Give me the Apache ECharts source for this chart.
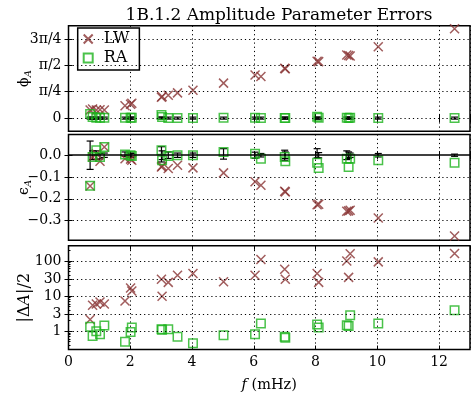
<!DOCTYPE html>
<html>
<head>
<meta charset="utf-8">
<script src="https://cdn.jsdelivr.net/npm/echarts@6/dist/echarts.min.js"></script>
<style>html,body{margin:0;padding:0;background:#fff}#c{width:471px;height:394px}</style>
</head>
<body>
<div id="c"></div>
<script>
// ---- data ----
const freq   = [0.70, 0.78, 0.90, 1.02, 1.16, 1.83, 2.01, 2.05, 3.01, 3.03, 3.23, 3.53, 4.03, 5.02, 6.04, 6.23, 7.00, 7.02, 8.05, 8.10, 9.01, 9.07, 9.12, 10.03, 12.50];
// phase error (rad)
const phiLW  = [0.24, 0.27, 0.24, 0.25, 0.24, 0.37, 0.41, 0.44, 0.62, 0.64, 0.68, 0.75, 0.83, 1.04, 1.28, 1.24, 1.48, 1.47, 1.69, 1.68, 1.88, 1.86, 1.85, 2.12, 2.66];
const phiRA  = [0.12, 0.03, 0.01, 0.01, 0.01, 0.01, 0.01, 0.01, 0.09, 0.03, 0.00, 0.00, 0.00, 0.01, 0.01, 0.00, 0.00, 0.00, 0.04, 0.01, 0.01, 0.00, 0.01, 0.00, 0.00];
const phiErr = [0.03, 0.03, 0.03, 0.03, 0.03, 0.03, 0.03, 0.03, 0.03, 0.03, 0.03, 0.03, 0.03, 0.03, 0.03, 0.03, 0.03, 0.03, 0.03, 0.03, 0.03, 0.03, 0.03, 0.03, 0.03];
// eccentricity error
const epsLW  = [-0.141, -0.008, 0.007, -0.028, 0.038, -0.016, -0.018, -0.023, -0.054, -0.050, -0.061, -0.046, -0.058, -0.081, -0.122, -0.138, -0.165, -0.168, -0.227, -0.225, -0.257, -0.255, -0.252, -0.288, -0.370];
const epsRA  = [-0.140, -0.008, 0.023, -0.008, 0.038, 0.003, 0.000, -0.003, 0.023, -0.023, -0.003, 0.000, 0.000, 0.015, 0.007, -0.016, -0.008, -0.028, -0.034, -0.058, -0.016, -0.054, -0.016, -0.023, -0.034];
const epsErrMid = [0.000, 0.000, 0.000, -0.005, 0.000, 0.005, 0.000, 0.000, 0.004, 0.000, 0.000, 0.000, 0.000, 0.006, 0.000, 0.000, 0.000, 0.000, 0.009, 0.000, 0.000, 0.000, 0.000, 0.000, 0.000];
const epsErr = [0.065, 0.020, 0.020, 0.012, 0.010, 0.010, 0.010, 0.008, 0.035, 0.020, 0.015, 0.010, 0.010, 0.024, 0.014, 0.008, 0.023, 0.015, 0.021, 0.012, 0.020, 0.015, 0.010, 0.008, 0.005];
// |ΔA|/2
const dALW   = [2.15, 5.5, 5.9, 6.8, 5.9, 7.2, 17, 14, 30, 9.9, 24.5, 39, 44, 25.4, 39, 110, 58, 30, 44, 24.5, 100, 34, 160, 94, 163];
const dARA   = [1.33, 0.73, 1.0, 0.82, 1.45, 0.50, 0.95, 1.27, 1.14, 1.10, 1.14, 0.69, 0.45, 0.77, 0.82, 1.66, 0.69, 0.65, 1.55, 1.27, 1.48, 1.41, 2.86, 1.66, 3.97];
// ticks
const phiTicks = [0, Math.PI / 4, Math.PI / 2, 3 * Math.PI / 4];
const phiTickLabels = ['0', 'π/4', 'π/2', '3π/4'];
const epsTicks = [0, -0.1, -0.2, -0.3];
const dATicks = [1, 3, 10, 30, 100];
const dAMinorTicks = [0.4, 0.5, 0.6, 0.7, 0.8, 0.9, 2, 4, 5, 6, 7, 8, 9, 20, 40, 50, 60, 70, 80, 90, 200];

// ---- styling ----
const FONT = 'DejaVu Serif';
const BROWN = '#8a3434';
const GREEN = '#1db31d';
const X_PATH = 'path://M0,0L10,10M10,0L0,10';

const grids = [
  { left: 68.5, right: 1, top: 25.7, height: 105.6 },
  { left: 68.5, right: 1, top: 134.5, height: 105.8 },
  { left: 68.5, right: 1, top: 245.8, height: 103.7 }
];
grids.forEach(g => Object.assign(g, { show: true, borderColor: '#000', borderWidth: 1.5,
  backgroundColor: 'transparent', containLabel: false, outerBoundsMode: 'none' }));

const dotted = { color: '#000', width: 1, type: [1.2, 3] };
const TICK_FS = 14;

const xAxes = [];
for (let i = 0; i < 3; i++) {
  xAxes.push({
    type: 'value', gridIndex: i, min: 0, max: 13, interval: 2, position: 'bottom',
    axisLine: { show: false },
    axisTick: { inside: true, length: 4, lineStyle: { color: '#000', width: 1 } },
    axisLabel: { show: i === 2, showMaxLabel: false, fontFamily: FONT, fontSize: TICK_FS, color: '#000', margin: 6 },
    splitLine: { show: true, lineStyle: dotted },
    name: i === 2 ? '{i|f} (mHz)' : '',
    nameLocation: 'middle', nameGap: 28, nameMoveOverlap: false,
    nameTextStyle: { fontFamily: FONT, fontSize: 14.5, color: '#000',
      rich: { i: { fontFamily: FONT, fontSize: 14.5, fontStyle: 'italic', color: '#000' } } }
  });
}
for (let i = 0; i < 3; i++) {
  xAxes.push({
    type: 'value', gridIndex: i, min: 0, max: 13, interval: 2, position: 'top',
    axisLine: { show: false },
    axisTick: { inside: true, length: 4, lineStyle: { color: '#000', width: 1 } },
    axisLabel: { show: false }, splitLine: { show: false }
  });
}

function fmtEps(v) {
  const s = Math.abs(v).toFixed(1);
  return (v < -1e-9 ? '−' : '') + s;
}
function fmtPhi(v) {
  let best = 0;
  for (let k = 0; k < phiTicks.length; k++) if (Math.abs(phiTicks[k] - v) < Math.abs(phiTicks[best] - v)) best = k;
  return phiTickLabels[best];
}

const labelStyle = { fontFamily: FONT, fontSize: TICK_FS, color: '#000', margin: 7 };
const tickStyle = { inside: true, length: 4, lineStyle: { color: '#000', width: 1 } };

const yAxes = [
  { type: 'value', gridIndex: 0, min: -Math.PI / 8, max: 7 * Math.PI / 8,
    axisLine: { show: false }, splitLine: { show: false },
    axisTick: Object.assign({ customValues: phiTicks }, tickStyle),
    axisLabel: Object.assign({ customValues: phiTicks, formatter: fmtPhi }, labelStyle),
    name: '{a|ϕ}{s|A}', nameLocation: 'middle', nameRotate: 90, nameGap: 35, nameMoveOverlap: false,
    nameTextStyle: { rich: {
      a: { fontFamily: FONT, fontSize: 14, color: '#000', lineHeight: 18 },
      s: { fontFamily: FONT, fontSize: 10, fontStyle: 'italic', color: '#000', verticalAlign: 'bottom', lineHeight: 18 } } } },
  { type: 'value', gridIndex: 1, min: -0.39, max: 0.095,
    axisLine: { show: false }, splitLine: { show: false },
    axisTick: Object.assign({ customValues: epsTicks }, tickStyle),
    axisLabel: Object.assign({ customValues: epsTicks, formatter: fmtEps }, labelStyle),
    name: '{a|ϵ}{s|A}', nameLocation: 'middle', nameRotate: 90, nameGap: 35, nameMoveOverlap: false,
    nameTextStyle: { rich: {
      a: { fontFamily: FONT, fontSize: 14, color: '#000', lineHeight: 18 },
      s: { fontFamily: FONT, fontSize: 10, fontStyle: 'italic', color: '#000', verticalAlign: 'bottom', lineHeight: 18 } } } },
  { type: 'log', logBase: 10, gridIndex: 2, min: 0.3, max: 270,
    axisLine: { show: false }, splitLine: { show: false },
    axisTick: Object.assign({ customValues: dATicks }, tickStyle),
    axisLabel: Object.assign({ customValues: dATicks, formatter: v => String(Math.round(v)) }, labelStyle),
    name: '|Δ{i|A}|/2', nameLocation: 'middle', nameRotate: 90, nameGap: 36, nameMoveOverlap: false,
    nameTextStyle: { fontFamily: FONT, fontSize: 16, color: '#000',
      rich: { i: { fontFamily: FONT, fontSize: 16, fontStyle: 'italic', color: '#000' } } } },
  // right side ticks
  { type: 'value', gridIndex: 0, min: -Math.PI / 8, max: 7 * Math.PI / 8, position: 'right',
    axisLine: { show: false }, splitLine: { show: false }, axisLabel: { show: false },
    axisTick: Object.assign({ customValues: phiTicks }, tickStyle) },
  { type: 'value', gridIndex: 1, min: -0.39, max: 0.095, position: 'right',
    axisLine: { show: false }, splitLine: { show: false }, axisLabel: { show: false },
    axisTick: Object.assign({ customValues: epsTicks }, tickStyle) },
  { type: 'log', logBase: 10, gridIndex: 2, min: 0.3, max: 270, position: 'right',
    axisLine: { show: false }, splitLine: { show: false }, axisLabel: { show: false },
    axisTick: Object.assign({ customValues: dATicks }, tickStyle) },
  // minor ticks on log axis (left)
  { type: 'log', logBase: 10, gridIndex: 2, min: 0.3, max: 270, position: 'left', offset: 0,
    axisLine: { show: false }, splitLine: { show: false }, axisLabel: { show: false },
    axisTick: { customValues: dAMinorTicks, inside: true, length: 2, lineStyle: { color: '#000', width: 1 } } }
];

function gridLines(values, extra) {
  const data = values.map(v => ({ yAxis: v }));
  if (extra) data.push(...extra);
  return { silent: true, symbol: ['none', 'none'], label: { show: false }, animation: false,
    lineStyle: dotted, emphasis: { disabled: true }, data: data };
}

function errRender(params, api) {
  const x = api.value(0), c = api.value(1), e = api.value(2);
  const lo = api.coord([x, c - e]);
  const hi = api.coord([x, c + e]);
  const w = 3.5;
  const st = { stroke: '#000', lineWidth: 1.2 };
  return { type: 'group', children: [
    { type: 'line', shape: { x1: lo[0], y1: lo[1], x2: hi[0], y2: hi[1] }, style: st },
    { type: 'line', shape: { x1: lo[0] - w, y1: lo[1], x2: lo[0] + w, y2: lo[1] }, style: st },
    { type: 'line', shape: { x1: hi[0] - w, y1: hi[1], x2: hi[0] + w, y2: hi[1] }, style: st }
  ] };
}

const pair = arr => freq.map((f, i) => [f, arr[i]]);
const lwStyle = { color: 'transparent', borderColor: BROWN, borderWidth: 1.5 };
const raStyle = { color: 'transparent', borderColor: GREEN, borderWidth: 1.5 };

const series = [
  // panel 1
  { type: 'custom', xAxisIndex: 0, yAxisIndex: 0, renderItem: errRender, z: 2, silent: true,
    encode: { x: 0, y: 1 }, data: freq.map((f, i) => [f, 0, phiErr[i]]) },
  { name: 'LW', type: 'scatter', xAxisIndex: 0, yAxisIndex: 0, symbol: X_PATH, symbolSize: 9, z: 3,
    itemStyle: lwStyle, data: pair(phiLW), markLine: gridLines(phiTicks) },
  { name: 'RA', type: 'scatter', xAxisIndex: 0, yAxisIndex: 0, symbol: 'rect', symbolSize: 8.5, z: 4,
    itemStyle: raStyle, data: pair(phiRA) },
  // panel 2
  { type: 'custom', xAxisIndex: 1, yAxisIndex: 1, renderItem: errRender, z: 2, silent: true,
    encode: { x: 0, y: 1 }, data: freq.map((f, i) => [f, epsErrMid[i], epsErr[i]]) },
  { name: 'LW', type: 'scatter', xAxisIndex: 1, yAxisIndex: 1, symbol: X_PATH, symbolSize: 9, z: 3,
    itemStyle: lwStyle, data: pair(epsLW),
    markLine: gridLines(epsTicks.filter(v => v !== 0), [{ yAxis: 0, lineStyle: { type: 'solid', width: 1.5, color: '#000' } }]) },
  { name: 'RA', type: 'scatter', xAxisIndex: 1, yAxisIndex: 1, symbol: 'rect', symbolSize: 8.5, z: 4,
    itemStyle: raStyle, data: pair(epsRA) },
  // panel 3
  { name: 'LW', type: 'scatter', xAxisIndex: 2, yAxisIndex: 2, symbol: X_PATH, symbolSize: 9, z: 3,
    itemStyle: lwStyle, data: pair(dALW), markLine: gridLines(dATicks) },
  { name: 'RA', type: 'scatter', xAxisIndex: 2, yAxisIndex: 2, symbol: 'rect', symbolSize: 8.5, z: 4,
    itemStyle: raStyle, data: pair(dARA) }
];

const chart = echarts.init(document.getElementById('c'), null, { renderer: 'canvas' });
chart.setOption({
  animation: false,
  backgroundColor: '#fff',
  title: { text: '1B.1.2 Amplitude Parameter Errors', left: 274, top: 2, textAlign: 'center',
    textStyle: { fontFamily: FONT, fontSize: 17, fontWeight: 'normal', color: '#000' } },
  legend: { data: ['LW', 'RA'], orient: 'vertical', left: 77.7, top: 28,
    backgroundColor: '#fff', borderColor: '#000', borderWidth: 1.5, borderRadius: 0,
    padding: [3, 10, 4, 5], itemGap: 3, itemWidth: 9, itemHeight: 9,
    textStyle: { fontFamily: FONT, fontSize: 16, color: '#000', padding: [0, 0, 0, 6] } },
  grid: grids,
  xAxis: xAxes,
  yAxis: yAxes,
  series: series
});
</script>
</body>
</html>
